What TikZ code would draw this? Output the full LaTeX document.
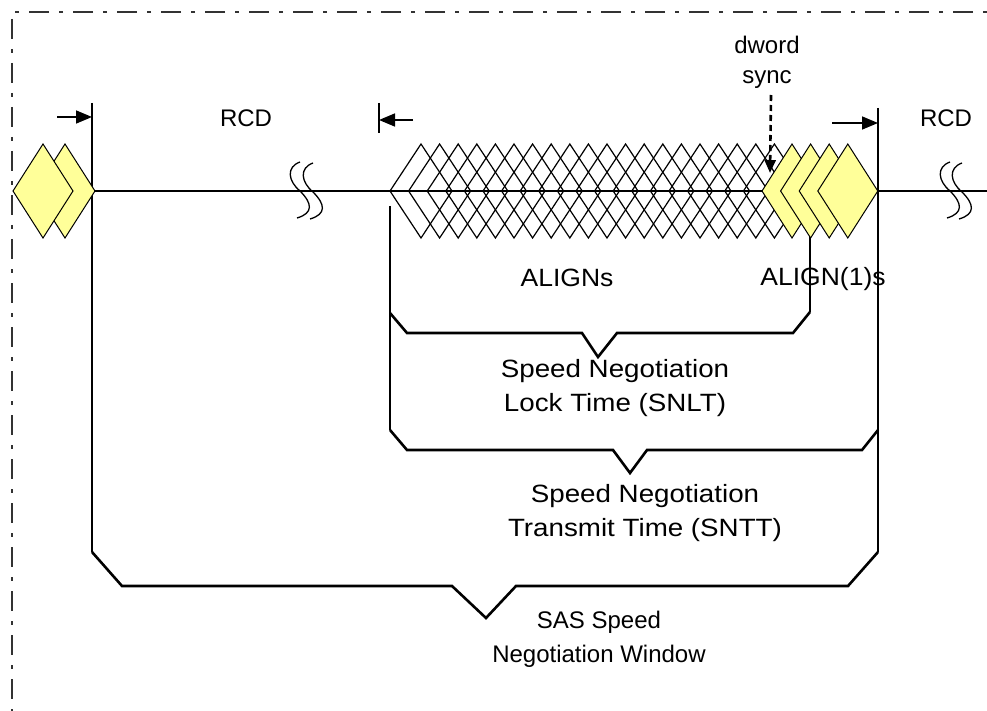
\documentclass[tikz,border=0pt]{standalone}
\usepackage{fontspec}
\setmainfont{Liberation Sans}
\newfontfamily\snfont[FakeStretch=1.11]{Liberation Sans}
\newfontfamily\alfont[FakeStretch=1.06]{Liberation Sans}
\usetikzlibrary{arrows.meta}
\definecolor{alignyellow}{RGB}{255,255,153}
\definecolor{framegray}{RGB}{50,50,50}
\begin{document}
\begin{tikzpicture}[x=1pt,y=-1pt,
  framestyle/.style={line width=2pt,draw=framegray,dash pattern=on 4pt off 10pt on 20pt off 10pt},
  rule/.style={line width=1.6pt},
  bracketline/.style={line width=2.6pt,line join=miter},
  ptr/.style={line width=1.6pt,-{Triangle[length=16pt,width=13pt]}},
  syncptr/.style={line width=2.6pt,dash pattern=on 6pt off 4pt,-{Triangle[length=13pt,width=11pt]}},
  wdiam/.style={line width=1.2pt,draw=black},
  ydiam/.style={line width=1pt,draw=black,fill=alignyellow},
  lbl/.style={font=\fontsize{24}{30}\selectfont,inner sep=0pt,align=center},
  snlbl/.style={font=\snfont\fontsize{25}{34}\selectfont,inner sep=0pt,align=center},
  allbl/.style={font=\alfont\fontsize{25}{30}\selectfont,inner sep=0pt},
  squig/.pic={\draw[line width=1.3pt] (0,-29) .. controls (-14,-24) and (-12,-10) .. (0,0) .. controls (12,12) and (14,22) .. (-3,27);}
]
\useasboundingbox (0,0) rectangle (987,711);

% frame
\coordinate (fTL) at (12,12);
\coordinate (fTR) at (987,12);
\coordinate (fBL) at (12,711);
\draw[framestyle] (fTR) -- (fTL) -- (fBL);

% coordinates
\coordinate (mainL) at (95,191);
\coordinate (mainR) at (987,191);
\coordinate (vAtop) at (92,103);
\coordinate (vAbot) at (92,552);
\coordinate (tickT) at (379,103);
\coordinate (tickB) at (379,133);
\coordinate (vBtop) at (390,206);
\coordinate (vBbot) at (390,430);
\coordinate (vCtop) at (810,237);
\coordinate (vCbot) at (810,312);
\coordinate (vDtop) at (878,108);
\coordinate (vDbot) at (878,552);

% lines
\draw[rule] (mainL) -- (mainR);
\draw[rule] (vAtop) -- (vAbot);
\draw[rule] (tickT) -- (tickB);
\draw[rule] (vBtop) -- (vBbot);
\draw[rule] (vCtop) -- (vCbot);
\draw[rule] (vDtop) -- (vDbot);

% ALIGN lattice
\foreach \k in {0,...,19}
  \draw[wdiam] ({390+18.6*\k},191) -- ++(31,-47) -- ++(31,47) -- ++(-31,47) -- cycle;
\foreach \k in {20,...,23}
  \draw[ydiam] ({390+18.6*\k},191) -- ++(30,-47) -- ++(30,47) -- ++(-30,47) -- cycle;

% left pair of ALIGNs
\draw[ydiam] (35,191) -- ++(30,-47) -- ++(30,47) -- ++(-30,47) -- cycle;
\draw[ydiam] (13,191) -- ++(30,-47) -- ++(30,47) -- ++(-30,47) -- cycle;

% breaks
\pic at (300,191) {squig};
\pic at (313,192) {squig};
\pic at (950,191) {squig};
\pic at (962,192) {squig};

% arrows
\coordinate (a1s) at (57,117);
\coordinate (a1e) at (92,117);
\draw[ptr] (a1s) -- (a1e);
\coordinate (a2s) at (413,120);
\coordinate (a2e) at (379,120);
\draw[ptr] (a2s) -- (a2e);
\coordinate (a3s) at (832,123);
\coordinate (a3e) at (878,123);
\draw[ptr] (a3s) -- (a3e);

% labels
\node[lbl,anchor=base] (rcdL) at (246,127) {RCD};
\node[lbl,anchor=base] (rcdR) at (946,127) {RCD};
\node[lbl,anchor=base] (dword) at (767,84) {dword\\sync};
\coordinate (syncStart) at (771,95);
\coordinate (syncEnd) at (770,173);
\draw[syncptr] (syncStart) -- (syncEnd);
\node[allbl,anchor=base] (aligns) at (567,286) {ALIGNs};
\node[allbl,anchor=base] (align1) at (823,285) {ALIGN(1)s};

% SNLT bracket
\draw[bracketline] (vCbot) -- (793,333) -- (617,333) -- (598,357) -- (582,333) -- (407,333) -- (390,313);
\node[snlbl,anchor=base] (snlt) at (615,411) {Speed Negotiation\\Lock Time (SNLT)};

% SNTT bracket
\draw[bracketline] (vBbot) -- (407,450) -- (613,450) -- (630,473) -- (647,450) -- (862,450) -- (878,430);
\node[snlbl,anchor=base] (sntt) at (645,536) {Speed Negotiation\\Transmit Time (SNTT)};

% SAS bracket
\draw[bracketline] (vAbot) -- (122,586) -- (452,586) -- (486,618) -- (516,586) -- (848,586) -- (vDbot);
\node[lbl,anchor=base,font=\fontsize{24}{34}\selectfont] (sas) at (599,662) {SAS Speed\\Negotiation Window};
\end{tikzpicture}
\end{document}
